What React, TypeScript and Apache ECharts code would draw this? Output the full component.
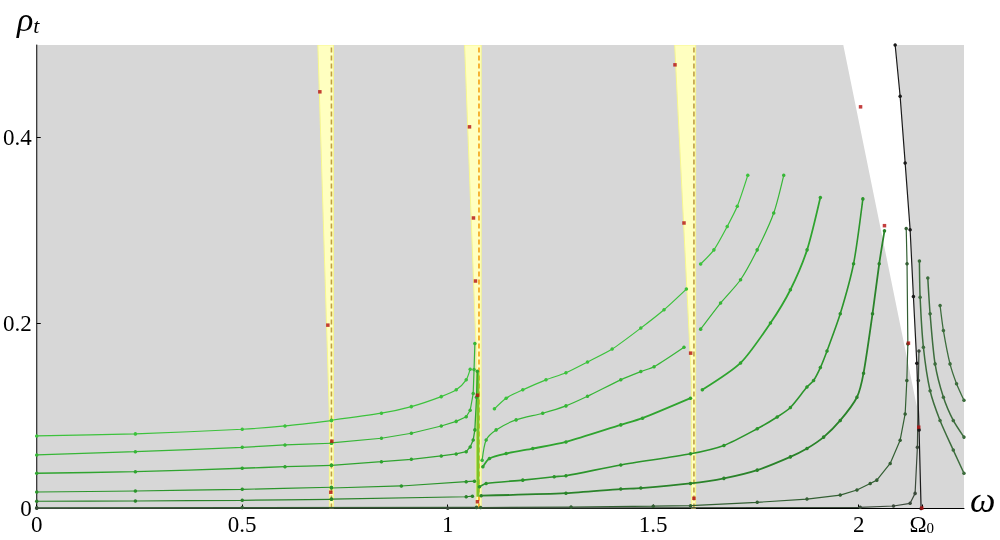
import React, { useEffect, useRef } from "react";
import * as echarts from "echarts";

// ---- axes ----
const OMEGA0 = 2.1534;
const X_MAX = 2.2561;
const Y_MAX = 0.5;
const X_TICKS = [0, 0.5, 1, 1.5, 2, OMEGA0];
const Y_TICKS = [0, 0.2, 0.4];

// ---- resonance positions (dashed lines) ----
const resonances = [0.717, 1.076, 1.599];
const resonanceColors = ["#c0a044", "#f4a214", "#c0a044"];

// ---- shaded regions ----
const yellowWedge1 = [[0.684, 0.5], [0.722, 0.5], [0.722, 0], [0.712, 0], [0.712, 0.1]];
const yellowWedge2 = [[1.041, 0.5], [1.0813, 0.5], [1.0813, 0], [1.0692, 0], [1.0692, 0.17]];
const yellowWedge3 = [[1.5522, 0.5], [1.6031, 0.5], [1.6031, 0], [1.5927, 0], [1.5927, 0.14]];
const whiteWedge = [
  [1.9624, 0.5], [2.1413, 0.11], [2.1413, 0.1568], [2.133, 0.2287], [2.125, 0.3008],
  [2.1129, 0.3728], [2.1007, 0.4447], [2.0886, 0.5],
];

// ---- curves ----
const curveA1 = [[0, 0.0783], [0.24, 0.0805], [0.5, 0.0855], [0.604, 0.0891], [0.717, 0.0948]];
const curveA2 = [[0.717, 0.0952], [0.8386, 0.1028], [0.9114, 0.1099], [0.9842, 0.1207], [1.0206, 0.128], [1.0449, 0.1388], [1.0546, 0.1503]];
const curveA3 = [[1.1136, 0.1075], [1.142, 0.119], [1.1825, 0.128], [1.239, 0.1388], [1.2876, 0.1464], [1.34, 0.158], [1.40, 0.172], [1.4697, 0.1946], [1.5262, 0.2144], [1.5806, 0.2367]];
const curveA4 = [[1.6153, 0.2637], [1.6476, 0.279], [1.68, 0.3043], [1.7044, 0.326], [1.73, 0.3594]];

const curveB1 = [[0, 0.0578], [0.24, 0.0613], [0.5, 0.066], [0.604, 0.0686], [0.717, 0.0704]];
const curveB2 = [[0.717, 0.0707], [0.8386, 0.0758], [0.9114, 0.0812], [0.9842, 0.089], [1.0206, 0.094], [1.0449, 0.099], [1.0546, 0.106], [1.0619, 0.124], [1.064, 0.15], [1.066, 0.178]];
const curveB3 = [[1.0837, 0.052], [1.0934, 0.074], [1.1177, 0.0848], [1.1663, 0.0956], [1.231, 0.1028], [1.2876, 0.1107], [1.34, 0.121], [1.421, 0.1388], [1.4697, 0.1477], [1.502, 0.153], [1.5748, 0.174]];
const curveB4 = [[1.6153, 0.1935], [1.6638, 0.2216], [1.7124, 0.2468], [1.7529, 0.279], [1.7932, 0.3188], [1.8175, 0.3594]];

const curveC1 = [[0, 0.038], [0.24, 0.0397], [0.5, 0.0434], [0.604, 0.0451], [0.717, 0.0466]];
const curveC2 = [[0.717, 0.0466], [0.8386, 0.0505], [0.9114, 0.0531], [0.9842, 0.0567], [1.0206, 0.0589], [1.0449, 0.0613], [1.0546, 0.0664], [1.0619, 0.074], [1.066, 0.0848], [1.07, 0.12], [1.072, 0.148]];
const curveC3 = [[1.0854, 0.045], [1.1015, 0.054], [1.142, 0.0593], [1.2068, 0.0647], [1.2876, 0.0718], [1.421, 0.0902], [1.4738, 0.0974], [1.5906, 0.119]];
const curveC4 = [[1.6194, 0.128], [1.7124, 0.157], [1.7852, 0.2], [1.8337, 0.236], [1.8743, 0.279], [1.9066, 0.3356]];

const curveD1 = [[0, 0.0178], [0.24, 0.0189], [0.5, 0.0207], [0.717, 0.0229]];
const curveD2 = [[0.717, 0.0221], [0.8871, 0.0243], [1.0449, 0.0289], [1.065, 0.0295]];
const curveD3 = [[1.0772, 0.0234], [1.0934, 0.027], [1.1825, 0.0306], [1.259, 0.0343], [1.2876, 0.0353], [1.421, 0.047], [1.5906, 0.059], [1.672, 0.068], [1.753, 0.086], [1.8015, 0.0987], [1.8337, 0.109], [1.874, 0.131], [1.89, 0.138], [1.9066, 0.152], [1.9228, 0.17], [1.955, 0.21], [1.9874, 0.264], [2.01, 0.334]];

const curveE1 = [[0, 0.0078], [0.24, 0.0081], [0.5, 0.0088], [0.717, 0.0099]];
const curveE2 = [[0.717, 0.0102], [1.0449, 0.0127], [1.06, 0.0133]];
const curveE3 = [[1.0813, 0.0138], [1.2876, 0.0165], [1.421, 0.021], [1.4697, 0.022], [1.5906, 0.027], [1.672, 0.0325], [1.753, 0.0414], [1.8337, 0.0557], [1.874, 0.0647], [1.9146, 0.077], [1.955, 0.095], [1.9956, 0.12], [2.0117, 0.146], [2.0335, 0.21], [2.0498, 0.264], [2.0626, 0.2995]];

const curveF1 = [[0, 0.0008], [0.5, 0.001], [1.07, 0.0012]];
const curveF2 = [[1.08, 0.001], [1.3, 0.0015], [1.5, 0.0025], [1.5906, 0.003], [1.753, 0.0067], [1.874, 0.0102], [1.955, 0.0145], [1.9956, 0.02], [2.0279, 0.027], [2.044, 0.0306], [2.0765, 0.0486], [2.1007, 0.0737], [2.1129, 0.102], [2.117, 0.138], [2.1195, 0.1776], [2.1175, 0.264], [2.1155, 0.302]];

const curveG = [[0, 0.0002], [1.0, 0.0003], [2.0036, 0.0013], [2.0845, 0.0027], [2.125, 0.0056], [2.1371, 0.0163], [2.1427, 0.066], [2.1451, 0.138], [2.1465, 0.17]];

const backbone = [[2.0886, 0.5], [2.1007, 0.4447], [2.1129, 0.3728], [2.125, 0.3008], [2.133, 0.2287], [2.1413, 0.1568], [2.1468, 0.0848], [2.1517, 0]];

const curveR1 = [[2.1476, 0.267], [2.1493, 0.228], [2.1573, 0.174], [2.1736, 0.127], [2.1978, 0.095], [2.23, 0.063], [2.256, 0.038]];
const curveR2 = [[2.168, 0.2486], [2.1736, 0.21], [2.1857, 0.156], [2.206, 0.12], [2.23, 0.095], [2.256, 0.077]];
const curveR3 = [[2.1979, 0.219], [2.206, 0.192], [2.2221, 0.156], [2.238, 0.1346], [2.256, 0.1167]];

const verticalBand = [[1.0735, 0.0127], [1.0735, 0.147]];

const redDots = [
  [0.6888, 0.4495], [0.7083, 0.1978], [0.718, 0.0726], [0.7155, 0.0175],
  [1.0529, 0.4117], [1.0626, 0.3134], [1.0675, 0.2454], [1.0723, 0.1222], [1.0723, 0.0073],
  [1.5529, 0.4786], [1.5748, 0.308], [1.591, 0.1676], [1.599, 0.011],
  [2.0044, 0.4333], [2.0626, 0.3051], [2.1209, 0.1784], [2.146, 0.0877], [2.1534, 0.0005],
];

const COL_A = "#3cc23c";
const COL_B = "#36b636";
const COL_C = "#2fa42f";
const COL_D = "#2b952b";
const COL_E = "#2a832a";
const COL_F = "#335f33";
const COL_G = "#3b4a3b";
const COL_R = "#3d6d3d";

// [data, colour, width, smooth]
const curves: [number[][], string, number, boolean][] = [
  [curveA1, COL_A, 1.2, true], [curveA2, COL_A, 1.2, true], [curveA3, COL_A, 1.2, true], [curveA4, COL_A, 1.2, true],
  [curveB1, COL_B, 1.2, true], [curveB2, COL_B, 1.2, false], [curveB3, COL_B, 1.2, true], [curveB4, COL_B, 1.2, true],
  [curveC1, COL_C, 1.3, true], [curveC2, COL_C, 1.3, false], [curveC3, COL_C, 1.8, true], [curveC4, COL_C, 1.8, true],
  [curveD1, COL_D, 1.2, true], [curveD2, COL_D, 1.2, false], [curveD3, COL_D, 1.6, true],
  [curveE1, COL_E, 1.2, true], [curveE2, COL_E, 1.2, false], [curveE3, COL_E, 1.8, true],
  [curveF1, COL_F, 1.2, false], [curveF2, COL_F, 1.2, false],
  [curveG, COL_G, 1.2, false],
  [curveR1, COL_R, 1.5, true], [curveR2, COL_R, 1.5, true], [curveR3, COL_R, 1.3, true],
];

function polygonSeries(pts: number[][], fill: string, z: number, stroke?: string) {
  return {
    type: "custom",
    silent: true,
    z,
    clip: true,
    data: [pts[0]],
    renderItem: (_params: any, api: any) => ({
      type: "polygon",
      shape: { points: pts.map((p) => api.coord(p)) },
      style: { fill, stroke: stroke || "none", lineWidth: stroke ? 1 : 0 },
    }),
  };
}

export default function App() {
  const ref = useRef<HTMLDivElement>(null);
  useEffect(() => {
    if (!ref.current) return;
    const chart = echarts.init(ref.current, undefined, { renderer: "svg" });
    const serif = "'Liberation Serif', 'Times New Roman', serif";

    const series: any[] = [];
    series.push(polygonSeries(whiteWedge, "#ffffff", 1));
    series.push(polygonSeries(yellowWedge1, "#ffffc0", 2, "#f7f78e"));
    series.push(polygonSeries(yellowWedge2, "#ffffc0", 2, "#f7f78e"));
    series.push(polygonSeries(yellowWedge3, "#ffffc0", 2, "#f7f78e"));

    resonances.forEach((w, i) => {
      series.push({
        type: "line",
        z: 3,
        silent: true,
        data: [[w, 0], [w, Y_MAX]],
        symbol: "none",
        lineStyle: { color: resonanceColors[i], width: 1.6, type: [5, 3] },
      });
    });

    series.push({
      type: "line",
      z: 4,
      silent: true,
      data: verticalBand,
      symbol: "none",
      lineStyle: { color: "#7cc42a", width: 3 },
    });

    curves.forEach(([d, c, w, sm]) => {
      series.push({
        type: "line",
        z: 5,
        silent: true,
        data: d,
        smooth: sm ? 0.25 : false,
        symbol: "circle",
        symbolSize: 3.5,
        showAllSymbol: true,
        lineStyle: { color: c, width: w },
        itemStyle: { color: c },
      });
    });

    series.push({
      type: "line",
      z: 6,
      silent: true,
      data: backbone,
      smooth: false,
      symbol: "circle",
      symbolSize: 3.5,
      showAllSymbol: true,
      lineStyle: { color: "#1a1a1a", width: 1.2 },
      itemStyle: { color: "#1a1a1a" },
    });

    series.push({
      type: "scatter",
      z: 8,
      silent: true,
      data: redDots,
      symbol: "rect",
      symbolSize: 3.5,
      itemStyle: { color: "#b40f0f" },
    });

    chart.setOption({
      animation: false,
      grid: {
        left: 34.5, right: 36, top: 45, bottom: 31.5,
        show: true, backgroundColor: "#d7d7d7", borderWidth: 0,
      },
      xAxis: {
        type: "value", min: 0, max: X_MAX,
        axisLine: { show: true, onZero: false, lineStyle: { color: "#000", width: 1 } },
        axisTick: { show: true, inside: true, length: 4, customValues: X_TICKS, lineStyle: { color: "#000" } },
        splitLine: { show: false },
        axisLabel: {
          customValues: X_TICKS,
          margin: 4,
          color: "#000",
          fontFamily: serif,
          fontSize: 23,
          formatter: (v: number) => (Math.abs(v - OMEGA0) < 1e-6 ? "{o|Ω}{s|0}" : String(v)),
          rich: {
            o: { fontFamily: serif, fontSize: 23, color: "#000" },
            s: { fontFamily: serif, fontSize: 15, color: "#000", verticalAlign: "bottom", padding: [8, 0, 0, 0] },
          },
        },
      },
      yAxis: {
        type: "value", min: 0, max: Y_MAX,
        axisLine: { show: true, onZero: false, lineStyle: { color: "#000", width: 1 } },
        axisTick: { show: true, inside: true, length: 4, customValues: Y_TICKS, lineStyle: { color: "#000" } },
        splitLine: { show: false },
        axisLabel: {
          customValues: Y_TICKS,
          margin: 5,
          color: "#000",
          fontFamily: serif,
          fontSize: 23,
          formatter: (v: number) => (v === 0 ? "0" : v.toFixed(1)),
        },
      },
      graphic: [
        {
          type: "text", left: 17, top: 2, silent: true,
          style: {
            text: "{r|ρ}{t|t}",
            rich: {
              r: { fontFamily: serif, fontStyle: "italic", fontSize: 34, fill: "#000" },
              t: { fontFamily: serif, fontStyle: "italic", fontSize: 22, fill: "#000", padding: [12, 0, 0, 0] },
            },
          },
        },
        {
          type: "text", left: 970, top: 482, silent: true,
          style: { text: "ω", fontFamily: serif, fontStyle: "italic", fontSize: 36, fill: "#000" },
        },
      ],
      series,
    });
    return () => chart.dispose();
  }, []);
  return <div ref={ref} style={{ position: "fixed", left: 0, top: 0, width: 1000, height: 540 }} />;
}
